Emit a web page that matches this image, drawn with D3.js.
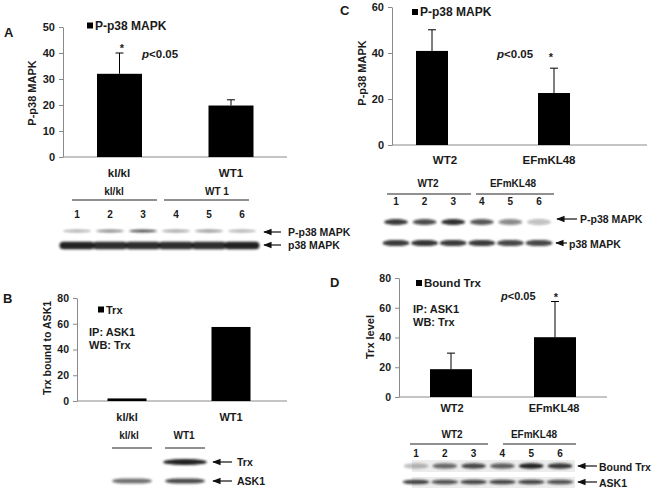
<!DOCTYPE html>
<html><head><meta charset="utf-8">
<script src="https://cdn.jsdelivr.net/npm/d3@7"></script>
<style>
body{margin:0;background:#fff}
svg{display:block}
text{font-family:"Liberation Sans",Arial,sans-serif;font-weight:bold;fill:#1a1a1a}
</style>
</head><body>
<svg id="c" width="655" height="498"></svg>
<script>
// ---------- data ----------
const catsA = ["kl/kl", "WT1"];
const valsA = [32, 19.8];
const errA  = [8, 2.2];
const ticksA = [0, 10, 20, 30, 40, 50];

const catsB = ["kl/kl", "WT1"];
const valsB = [2, 57.5];
const ticksB = [0, 20, 40, 60, 80];

const catsC = ["WT2", "EFmKL48"];
const valsC = [40.9, 22.6];
const errC  = [9.2, 10.8];
const ticksC = [0, 20, 40, 60];

const catsD = ["WT2", "EFmKL48"];
const valsD = [18.7, 40.2];
const errD  = [10.8, 24];
const ticksD = [0, 20, 40, 60, 80];

const lanes = ["1", "2", "3", "4", "5", "6"];
// band intensities (0..1)
const blotA_pp38 = [0.35, 0.5, 0.75, 0.4, 0.45, 0.35];
const blotA_p38  = [0.95, 0.9, 0.9, 0.9, 0.9, 0.95];
const blotB_trx  = [0.0, 0.95];
const blotB_ask1 = [0.6, 0.75];
const blotC_pp38 = [0.85, 0.75, 0.9, 0.7, 0.5, 0.28];
const blotC_p38  = [0.85, 0.88, 0.85, 0.85, 0.8, 0.8];
const blotD_trx  = [0.25, 0.6, 0.75, 0.65, 0.95, 0.85];
const blotD_ask1 = [0.8, 0.7, 0.75, 0.75, 0.75, 0.7];

// ---------- helpers ----------
const svg = d3.select("#c");
const defs = svg.append("defs");
defs.append("filter").attr("id","blur").attr("x","-30%").attr("y","-100%").attr("width","160%").attr("height","300%")
  .append("feGaussianBlur").attr("stdDeviation", 1.1);
defs.append("marker").attr("id","ah").attr("viewBox","0 0 10 10").attr("refX",9).attr("refY",5)
  .attr("markerWidth",7).attr("markerHeight",7).attr("orient","auto")
  .append("path").attr("d","M10,5 L0,1 L0,9 Z").attr("fill","#111");

function barChart(o){
  const g = svg.append("g");
  const y = d3.scaleLinear().domain([0, o.ticks[o.ticks.length-1]]).range([o.y0, o.yTop]);
  const x = d3.scalePoint().domain(o.cats).range([o.x0, o.x1]).padding(0.5);
  const ax = g.append("g").attr("transform",`translate(${o.x0},0)`)
    .call(d3.axisLeft(y).tickValues(o.ticks).tickSize(4).tickSizeOuter(0).tickPadding(4));
  ax.selectAll("path,line").attr("stroke","#8a8a8a");
  ax.selectAll("text").attr("font-size",o.tickFs).attr("fill","#1a1a1a").attr("font-family",'"Liberation Sans",Arial,sans-serif').attr("font-weight","bold");
  g.append("line").attr("x1",o.x0).attr("x2",o.x1).attr("y1",o.y0).attr("y2",o.y0).attr("stroke","#8a8a8a");
  // bars
  g.selectAll("rect.bar").data(o.vals).join("rect").attr("class","bar")
    .attr("x",(d,i)=>x(o.cats[i]) + o.barDx[i] - o.barW/2).attr("width",o.barW)
    .attr("y",d=>y(d)).attr("height",d=>o.y0-y(d)).attr("fill","#000");
  if (o.errs){
    o.errs.forEach((e,i)=>{
      const cx = x(o.cats[i]) + o.barDx[i];
      g.append("line").attr("x1",cx).attr("x2",cx).attr("y1",y(o.vals[i])).attr("y2",y(o.vals[i]+e)).attr("stroke","#000");
      g.append("line").attr("x1",cx-4).attr("x2",cx+4).attr("y1",y(o.vals[i]+e)).attr("y2",y(o.vals[i]+e)).attr("stroke","#000");
    });
  }
  // category labels
  g.selectAll("text.cat").data(o.cats).join("text").attr("class","cat")
    .attr("x",(d,i)=>x(d)+o.labDx[i]).attr("y",o.labY).attr("text-anchor","middle")
    .attr("font-size",o.catFs).text(d=>d);
  // y label
  g.append("text").attr("transform",`translate(${o.ylabX},${o.ylabY}) rotate(-90)`)
    .attr("text-anchor","middle").attr("font-size",o.ylabFs).text(o.ylab);
  // legend
  g.append("rect").attr("x",o.legX).attr("y",o.legY-7).attr("width",6).attr("height",6).attr("fill","#000");
  g.append("text").attr("x",o.legX+8).attr("y",o.legY).attr("font-size",o.legFs).text(o.leg);
  return {g,x,y};
}

function pval(x,y,fs){
  const t = svg.append("text").attr("x",x).attr("y",y).attr("font-size",fs);
  t.append("tspan").attr("font-style","italic").text("p");
  t.append("tspan").text("<0.05");
}
function txt(x,y,s,fs,anchor){
  return svg.append("text").attr("x",x).attr("y",y).attr("font-size",fs).attr("text-anchor",anchor||"start").text(s);
}
function bands(xs, cats, y, intens, w, h, rx){
  const g = svg.append("g").attr("filter","url(#blur)");
  g.selectAll("rect").data(intens).join("rect")
    .attr("x",(d,i)=>xs(cats[i])-w/2).attr("width",w)
    .attr("y",y-h/2).attr("height",h).attr("rx",rx).attr("ry",h/2)
    .attr("fill","#151515").attr("fill-opacity",d=>d);
}
function arrow(x1,x2,y){
  svg.append("line").attr("x1",x2).attr("x2",x1).attr("y1",y).attr("y2",y)
    .attr("stroke","#111").attr("stroke-width",1.2).attr("marker-end","url(#ah)");
}
function groupLine(x1,x2,y){
  svg.append("line").attr("x1",x1).attr("x2",x2).attr("y1",y).attr("y2",y).attr("stroke","#222").attr("stroke-width",1);
}

// ---------- panel A ----------
txt(4,37,"A",13);
barChart({cats:catsA, vals:valsA, errs:errA, ticks:ticksA, x0:63, x1:287, y0:157, yTop:27,
  barW:45, barDx:[0.5,0], labDx:[0,0], labY:177, tickFs:11, catFs:11.5,
  ylab:"P-p38 MAPK", ylabX:36, ylabY:93, ylabFs:11, leg:"P-p38 MAPK", legX:87, legY:29.5, legFs:12});
txt(122,52,"*",11,"middle");
pval(142,57.5,11.5);

// blot A
const xA = d3.scalePoint().domain(lanes).range([77,242]);
txt(114,195,"kl/kl",10,"middle");
txt(217,195,"WT 1",10,"middle");
groupLine(72,157,200); groupLine(164,249,200);
svg.selectAll("text.lA").data(lanes).join("text").attr("class","lA")
  .attr("x",d=>xA(d)).attr("y",218).attr("text-anchor","middle").attr("font-size",10).text(d=>d);
bands(xA, lanes, 231, blotA_pp38, 28, 3, 14);
bands(xA, lanes, 245.5, blotA_p38, 35, 7.5, 4);
arrow(264,281,232); txt(288,236,"P-p38 MAPK",10.5);
arrow(264,281,245); txt(288,249,"p38 MAPK",10.5);

// ---------- panel C ----------
txt(340,15,"C",13);
barChart({cats:catsC, vals:valsC, errs:errC, ticks:ticksC, x0:392, x1:647, y0:145, yTop:7,
  barW:32, barDx:[-23.75,-29.25], labDx:[-10.75,-34.25], labY:164, tickFs:11, catFs:11.5,
  ylab:"P-p38 MAPK", ylabX:366, ylabY:73, ylabFs:11, leg:"P-p38 MAPK", legX:412, legY:16, legFs:12});
pval(497,58,11.5);
txt(551,61,"*",11,"middle");

// blot C
const xC = d3.scalePoint().domain(lanes).range([396,539]);
txt(428,187,"WT2",10,"middle");
txt(513,187,"EFmKL48",10,"middle");
groupLine(387,471,194); groupLine(476,554,194);
svg.selectAll("text.lC").data(lanes).join("text").attr("class","lC")
  .attr("x",d=>xC(d)).attr("y",205).attr("text-anchor","middle").attr("font-size",10).text(d=>d);
bands(xC, lanes, 222, blotC_pp38, 24, 6, 12);
bands(xC, lanes, 243, blotC_p38, 27, 6, 10);
arrow(557,577,219); txt(580,223,"P-p38 MAPK",10.5);
arrow(556,567,243); txt(569,247.5,"p38 MAPK",10.5);

// ---------- panel B ----------
txt(3,303,"B",13);
barChart({cats:catsB, vals:valsB, errs:null, ticks:ticksB, x0:77, x1:287, y0:401, yTop:298,
  barW:39, barDx:[-2.5,-3.5], labDx:[-2.5,-3.5], labY:421, tickFs:10.5, catFs:11,
  ylab:"Trx bound to ASK1", ylabX:51, ylabY:348, ylabFs:10.5, leg:"Trx", legX:98, legY:313.5, legFs:11});
txt(89,336,"IP: ASK1",11);
txt(89,348.5,"WB: Trx",11);

// blot B
const xB = d3.scalePoint().domain(catsB).range([132,185]);
txt(129,439,"kl/kl",10,"middle");
txt(184,439,"WT1",10,"middle");
groupLine(112,152,448); groupLine(165,205,448);
bands(xB, catsB, 462, blotB_trx, 44, 6, 20);
bands(xB, catsB, 481, blotB_ask1, 40, 5, 12);
arrow(213,232,462); txt(237,466,"Trx",10.5);
arrow(213,232,481); txt(237,485,"ASK1",10.5);

// ---------- panel D ----------
txt(330,287,"D",13);
barChart({cats:catsD, vals:valsD, errs:errD, ticks:ticksD, x0:399, x1:607, y0:397, yTop:278,
  barW:42, barDx:[0,0], labDx:[1,-1], labY:412, tickFs:10.5, catFs:11,
  ylab:"Trx level", ylabX:374, ylabY:337, ylabFs:11, leg:"Bound Trx", legX:416, legY:287, legFs:11.5});
txt(413,313,"IP: ASK1",11);
txt(413,326,"WB: Trx",11);
pval(501,300,11);
txt(556,301,"*",11,"middle");

// blot D
const xD = d3.scalePoint().domain(lanes).range([416,560]);
svg.append("rect").attr("x",412).attr("y",460).attr("width",163).attr("height",12).attr("fill","#ececec");
svg.append("rect").attr("x",412).attr("y",477).attr("width",163).attr("height",11).attr("fill","#ececec");
txt(452,438,"WT2",10,"middle");
txt(534,438,"EFmKL48",10,"middle");
groupLine(410,488,444); groupLine(503,576,444);
svg.selectAll("text.lD").data(lanes).join("text").attr("class","lD")
  .attr("x",d=>xD(d)).attr("y",457).attr("text-anchor","middle").attr("font-size",10).text(d=>d);
bands(xD, lanes, 466, blotD_trx, 25, 5.5, 12);
bands(xD, lanes, 482, blotD_ask1, 27, 4.5, 10);
arrow(578,597,466); txt(599,470.5,"Bound Trx",10.5);
arrow(578,597,482); txt(599,486.5,"ASK1",10.5);
</script>
</body></html>
